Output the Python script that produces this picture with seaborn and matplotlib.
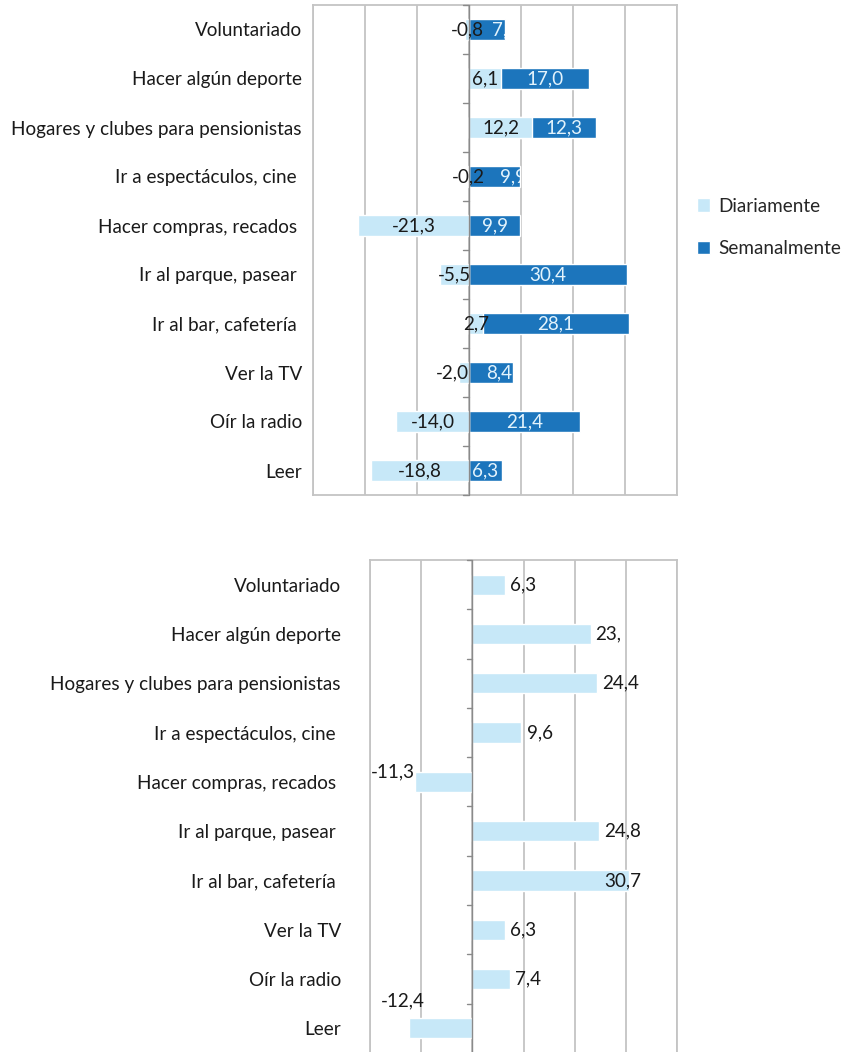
import matplotlib
matplotlib.use("Agg")
import matplotlib.pyplot as plt
from matplotlib.patches import Patch
import numpy as np
import pandas as pd
import seaborn as sns

# data
categorias = ["Voluntariado", "Hacer algún deporte", "Hogares y clubes para pensionistas",
              "Ir a espectáculos, cine ", "Hacer compras, recados ", "Ir al parque, pasear ",
              "Ir al bar, cafetería ", "Ver la TV", "Oír la radio", "Leer"]
diariamente = [-0.8, 6.1, 12.2, -0.2, -21.3, -5.5, 2.7, -2.0, -14.0, -18.8]
semanalmente = [7.0, 17.0, 12.3, 9.9, 9.9, 30.4, 28.1, 8.4, 21.4, 6.3]
inferior = [6.3, 23.1, 24.4, 9.6, -11.3, 24.8, 30.7, 6.3, 7.4, -12.4]
etiq_inferior = ["6,3", "23,", "24,4", "9,6", "-11,3", "24,8", "30,7", "6,3", "7,4", "-12,4"]

CLARO = "#c7e8f8"
OSCURO = "#1c75bc"
GRIS = "#c4c4c4"

sns.set_style("white")
plt.rcParams["font.family"] = ["Lato", "DejaVu Sans"]
FS = 13.6

fig = plt.figure(figsize=(8.48, 10.52), dpi=100)
ax1 = fig.add_axes([313 / 848, 1 - 495 / 1052, 364 / 848, 490 / 1052])
ax2 = fig.add_axes([370 / 848, 1 - 1053 / 1052, 307 / 848, 493 / 1052])


def fmt(v):
    return f"{v:.1f}".replace(".", ",")


def estilo(ax, xmin, xmax, pad):
    ax.set_xlim(xmin, xmax)
    ax.set_ylim(len(categorias) - 0.5, -0.5)
    ax.set_xticks(np.arange(xmin, xmax + 1, 10))
    ax.xaxis.grid(True, color=GRIS, linewidth=1.3)
    ax.yaxis.grid(False)
    ax.set_axisbelow(True)
    ax.set_xticklabels([])
    ax.tick_params(axis="x", length=0)
    ax.tick_params(axis="y", length=0, pad=pad, labelsize=FS, labelcolor="#1a1a1a")
    ax.set_xlabel("")
    ax.set_ylabel("")
    for s in ax.spines.values():
        s.set_visible(True)
        s.set_color(GRIS)
        s.set_linewidth(1.3)
    ax.axvline(0, color="#8a8a8a", linewidth=1.0, zorder=3)
    # small tick marks on the zero axis between categories
    bordes = np.arange(len(categorias) + 1) - 0.5
    for b in bordes:
        ax.plot([-(xmax - xmin) * 0.016, 0], [b, b], color="#8a8a8a", linewidth=1.0,
                clip_on=False, zorder=3)


# top chart: stacked bars (total drawn first, Diariamente on top)
df = pd.DataFrame({"cat": categorias, "diar": diariamente, "sem": semanalmente})
df["base"] = df["diar"].clip(lower=0)
df["total"] = df["base"] + df["sem"]

sns.barplot(data=df, y="cat", x="total", order=categorias, color=OSCURO, orient="h",
            width=0.41, saturation=1, ax=ax1, zorder=2)
barras_osc = list(ax1.patches)
sns.barplot(data=df, y="cat", x="diar", order=categorias, color=CLARO, orient="h",
            width=0.41, saturation=1, ax=ax1, zorder=2)
estilo(ax1, -30, 40, 8)

for i, r in df.iterrows():
    d, s, base = r["diar"], r["sem"], r["base"]
    if -4 < d < -1:
        ax1.text(-0.1, i, fmt(d), ha="right", va="center", fontsize=FS,
                 color="#1a1a1a", zorder=5)
        t = ax1.text(base + s - 0.1, i, fmt(s), ha="right", va="center", fontsize=FS,
                     color="#e3f3fc", zorder=5)
    elif -1 <= d < 0:
        ax1.text(d / 2, i, fmt(d), ha="center", va="center", fontsize=FS,
                 color="#1a1a1a", zorder=5)
        t = ax1.text(s / 2 + 1, i, fmt(s), ha="left", va="center", fontsize=FS,
                     color="#e3f3fc", zorder=5)
    else:
        ax1.text(d / 2, i, fmt(d), ha="center", va="center", fontsize=FS,
                 color="#1a1a1a", zorder=5)
        t = ax1.text(base + s / 2, i, fmt(s), ha="center", va="center", fontsize=FS,
                     color="#e3f3fc", zorder=5)
    t.set_clip_on(True)
    t.set_clip_path(barras_osc[i])

handles = [Patch(facecolor=CLARO, label="Diariamente"),
           Patch(facecolor=OSCURO, label="Semanalmente")]
fig.legend(handles=handles, loc="upper left", bbox_to_anchor=(689 / 848, 1 - 190 / 1052),
           frameon=False, fontsize=FS, handlelength=0.7, handleheight=0.7,
           handletextpad=0.45, labelspacing=1.35, borderaxespad=0)

# bottom chart
df2 = pd.DataFrame({"cat": categorias, "val": inferior})
sns.barplot(data=df2, y="cat", x="val", order=categorias, color=CLARO, orient="h",
            width=0.41, saturation=1, ax=ax2, zorder=2)
estilo(ax2, -20, 40, 21)

for i, (v, t) in enumerate(zip(inferior, etiq_inferior)):
    if v >= 0:
        x = v + 1.0 if v < 28 else 25.7
        ax2.text(x, i, t, ha="left", va="center", fontsize=FS, color="#1a1a1a", zorder=5)
    elif i == 4:
        ax2.text(v, i - 0.2, t, ha="right", va="center", fontsize=FS, color="#1a1a1a", zorder=5)
    else:
        ax2.text(v - 1.2, i - 0.55, t, ha="center", va="center", fontsize=FS,
                 color="#1a1a1a", zorder=5)

fig.savefig("out.png", dpi=100)
